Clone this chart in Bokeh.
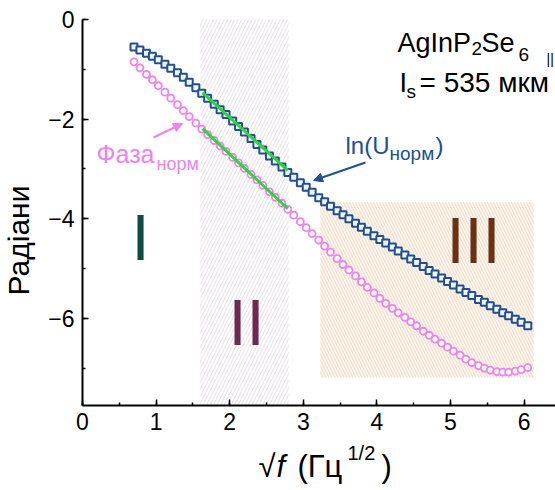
import math
from bokeh.plotting import figure
from bokeh.models import (Label, Arrow, NormalHead, SingleIntervalTicker, Range1d)
from bokeh.embed import file_html
from bokeh.resources import INLINE

# ---- data ----
sqrt_f = [0.70, 0.78, 0.87, 0.95, 1.03, 1.12, 1.20, 1.29, 1.37, 1.45, 1.54, 1.62, 1.70,
          1.79, 1.87, 1.95, 2.04, 2.12, 2.20, 2.29, 2.37, 2.45, 2.54, 2.62, 2.71, 2.79,
          2.87, 2.96, 3.04, 3.12, 3.21, 3.29, 3.37, 3.46, 3.54, 3.62, 3.71, 3.79, 3.87,
          3.96, 4.04, 4.12, 4.21, 4.29, 4.38, 4.46, 4.54, 4.63, 4.71, 4.79, 4.88, 4.96,
          5.04, 5.13, 5.21, 5.29, 5.38, 5.46, 5.54, 5.63, 5.71, 5.79, 5.88, 5.96, 6.05]

ln_u_norm = [-0.55, -0.61, -0.68, -0.74, -0.81, -0.90, -0.98, -1.07, -1.16, -1.26, -1.37,
             -1.48, -1.58, -1.70, -1.81, -1.91, -2.04, -2.15, -2.26, -2.39, -2.51, -2.62,
             -2.74, -2.84, -2.96, -3.07, -3.17, -3.28, -3.37, -3.47, -3.58, -3.66, -3.75,
             -3.84, -3.92, -4.00, -4.09, -4.17, -4.25, -4.34, -4.42, -4.49, -4.57, -4.65,
             -4.73, -4.81, -4.88, -4.96, -5.04, -5.11, -5.19, -5.26, -5.33, -5.41, -5.48,
             -5.54, -5.62, -5.68, -5.75, -5.82, -5.89, -5.95, -6.02, -6.08, -6.15]

phase_norm = [-0.85, -0.97, -1.10, -1.21, -1.33, -1.46, -1.58, -1.71, -1.83, -1.95, -2.08,
              -2.20, -2.31, -2.43, -2.54, -2.65, -2.77, -2.88, -2.99, -3.11, -3.22, -3.33,
              -3.46, -3.57, -3.69, -3.81, -3.93, -4.06, -4.18, -4.30, -4.43, -4.55, -4.67,
              -4.80, -4.92, -5.03, -5.15, -5.27, -5.38, -5.49, -5.60, -5.70, -5.80, -5.89,
              -5.98, -6.07, -6.15, -6.26, -6.34, -6.42, -6.50, -6.58, -6.66, -6.74, -6.82,
              -6.89, -6.95, -7.00, -7.04, -7.07, -7.08, -7.08, -7.06, -7.03, -6.99]

# linear fits in region II
fit_u_x = [1.63, 2.79]
fit_u_y = [-1.47, -3.03]
fit_ph_x = [1.63, 2.79]
fit_ph_y = [-2.19, -3.80]

# shaded regions
region2_x = [1.60, 2.80]
region3_x = [3.23, 6.13]
region3_y = [-7.19, -3.67]

x_ticks_step = 1
y_ticks_step = 2

# ---- geometry: frame covers the whole canvas, axes are pinned inside it ----
W, H = 555, 490
FL, FT = 82.0, 19.0     # pixel position of data origin x=0 / y=0
SX, SY = 73.6, 49.8     # pixels per data unit

X_AX0, X_AX1 = 0.0, (W - FL) / SX
Y_AX0, Y_AX1 = -7.75, 0.0

p = figure(width=W, height=H, output_backend="svg", toolbar_location=None,
           x_range=Range1d(-FL / SX, (W - FL) / SX),
           y_range=Range1d(-(H - FT) / SY, FT / SY),
           min_border=0, min_border_left=0, min_border_right=0,
           min_border_top=0, min_border_bottom=0)
p.outline_line_color = None
p.grid.visible = False
p.background_fill_color = "white"
p.border_fill_color = "white"

FONT = "Liberation Sans"

# region II
p.quad(left=[region2_x[0]], right=[region2_x[1]], bottom=[Y_AX0], top=[Y_AX1],
       fill_color="white", line_color=None,
       hatch_pattern="/", hatch_color="#e8dfe7", hatch_scale=7, hatch_weight=1.0)
# region III
p.quad(left=[region3_x[0]], right=[region3_x[1]], bottom=[region3_y[0]], top=[region3_y[1]],
       fill_color="#fbf3ea", line_color=None,
       hatch_pattern="\\", hatch_color="#efdfce", hatch_scale=6, hatch_weight=1.0)

BLUE = "#234f8e"
PINK = "#ee82ee"
GREEN = "#2fd43a"

p.line(sqrt_f, ln_u_norm, line_color=BLUE, line_width=1)
p.scatter(sqrt_f, ln_u_norm, marker="square", size=7, line_color=BLUE, line_width=2,
          fill_color="#f2f6ff")
p.line(sqrt_f, phase_norm, line_color=PINK, line_width=1)
p.scatter(sqrt_f, phase_norm, marker="circle", size=7, line_color=PINK, line_width=1.8,
          fill_color="white")

p.line(fit_u_x, fit_u_y, line_color=GREEN, line_width=3)
p.line(fit_ph_x, fit_ph_y, line_color=GREEN, line_width=3)

# axes pinned at the data origin
p.xaxis.fixed_location = Y_AX0
p.yaxis.fixed_location = X_AX0
p.xaxis.bounds = (X_AX0, X_AX1)
p.yaxis.bounds = (Y_AX0, Y_AX1)
for ax in (p.xaxis[0], p.yaxis[0]):
    ax.axis_line_width = 2
    ax.axis_line_color = "black"
    ax.major_tick_in = 6
    ax.major_tick_out = 0
    ax.minor_tick_in = 3
    ax.minor_tick_out = 0
    ax.major_tick_line_width = 1.5
    ax.minor_tick_line_width = 1.5
    ax.major_label_text_font = FONT
    ax.major_label_text_font_size = "23px"
    ax.major_label_text_color = "black"
    ax.major_label_standoff = 8

p.xaxis.ticker = SingleIntervalTicker(interval=x_ticks_step, num_minor_ticks=2)
p.yaxis.ticker = SingleIntervalTicker(interval=y_ticks_step, num_minor_ticks=2)


def dx(px):
    return (px - FL) / SX


def dy(py):
    return -(py - FT) / SY


def lab(px, py, text, size, color="black", style="normal", align="left",
        baseline="alphabetic", angle=0.0):
    if baseline == "alphabetic":
        py = py - 0.354 * size
    p.add_layout(Label(x=dx(px), y=dy(py), text=text, text_font=FONT,
                       text_font_size=f"{size}px", text_color=color,
                       text_font_style=style, text_align=align,
                       text_baseline=baseline, angle=angle))


# axis titles
lab(18, 240, "Радіани", 30, align="center", baseline="middle", angle=math.pi / 2)
lab(258, 477, "√", 31)
lab(276, 477, "f", 31, style="italic")
lab(297, 477, "(Гц", 31)
lab(347, 460, "1/2", 20)
lab(381, 477, ")", 31)

# top-right annotation
lab(397, 52, "AgInP", 27)
lab(471, 55, "2", 19)
lab(481, 52, "Se", 27)
lab(518, 61, "6", 19)
lab(546, 63, "||", 14)
lab(399, 92, "I", 27)
lab(406, 98, "s", 19)
lab(419, 92, "= 535 мкм", 28)

# curve labels
lab(345, 153, "ln(U", 24, color=BLUE)
lab(389, 160, "норм", 19, color=BLUE)
lab(435, 153, ")", 24, color=BLUE)
lab(96, 162, "Фаза", 25, color=PINK)
lab(156, 170, "норм", 18, color=PINK)

p.add_layout(Arrow(end=NormalHead(size=9, fill_color=BLUE, line_color=BLUE),
                   x_start=dx(365), y_start=dy(162), x_end=dx(313), y_end=dy(180),
                   line_color=BLUE, line_width=2))
p.add_layout(Arrow(end=NormalHead(size=9, fill_color=PINK, line_color=PINK),
                   x_start=dx(153), y_start=dy(137), x_end=dx(182), y_end=dy(123),
                   line_color=PINK, line_width=2))

# region numerals
lab(140, 260, "I", 65, color="#0f4e3e", align="center")
lab(246, 345, "II", 65, color="#6c2a50", align="center")
lab(473, 263, "III", 65, color="#6a3213", align="center")

open("out.html", "w").write(file_html(p, INLINE))
